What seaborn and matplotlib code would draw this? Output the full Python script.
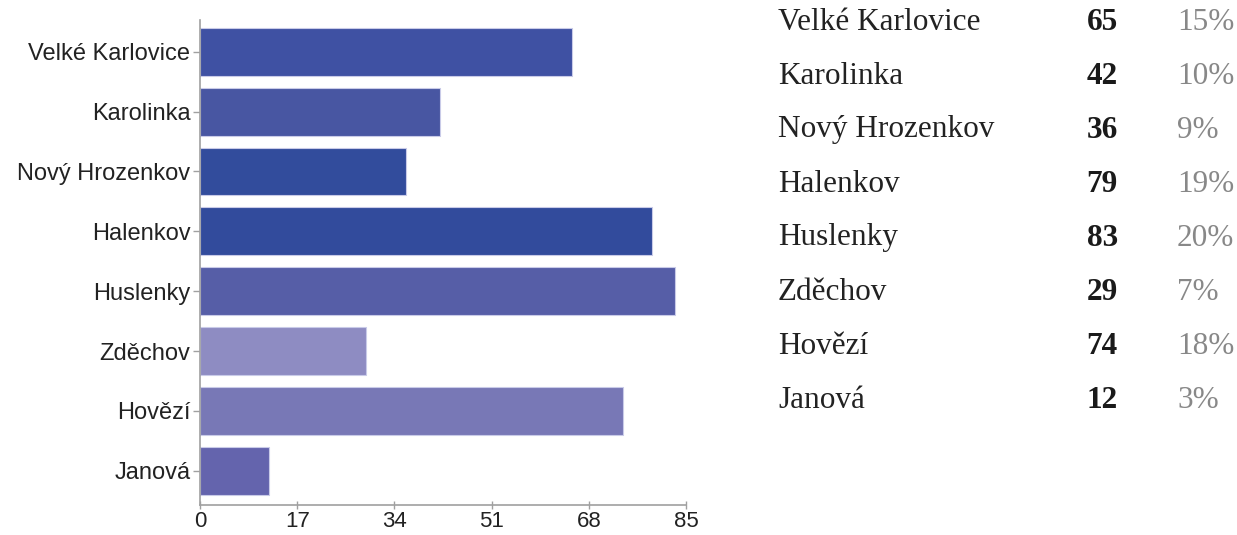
import pandas as pd
import seaborn as sns
import matplotlib.pyplot as plt

# Data
obce = ["Velké Karlovice", "Karolinka", "Nový Hrozenkov", "Halenkov",
        "Huslenky", "Zděchov", "Hovězí", "Janová"]
pocty = [65, 42, 36, 79, 83, 29, 74, 12]
procenta = ["15%", "10%", "9%", "19%", "20%", "7%", "18%", "3%"]
barvy = ["#3f51a3", "#4856a2", "#324c9c", "#324b9c",
         "#565ea7", "#8e8cc2", "#7878b6", "#6464ad"]
x_ticks = [0, 17, 34, 51, 68, 85]

df = pd.DataFrame({"obec": obce, "pocet": pocty})

sns.set_style("white")
plt.rcParams["font.family"] = ["Liberation Sans", "DejaVu Sans"]

fig = plt.figure(figsize=(12.37, 5.35), dpi=100)
ax = fig.add_axes([200 / 1237, 30 / 535, 486 / 1237, 485 / 535])

sns.barplot(data=df, x="pocet", y="obec", hue="obec", palette=dict(zip(obce, barvy)),
            orient="h", width=0.8, saturation=1, legend=False, ax=ax,
            edgecolor="#c9cbe8", linewidth=0.8)

ax.set_xlim(0, 85)
ax.set_ylim(7.57, -0.53)
ax.set_xticks(x_ticks)
ax.set_xlabel("")
ax.set_ylabel("")

sns.despine(ax=ax, top=True, right=True)
for side in ["left", "bottom"]:
    ax.spines[side].set_color("#a0a0a0")
    ax.spines[side].set_linewidth(1.2)

ax.tick_params(axis="y", direction="out", length=5, width=1, color="#a0a0a0",
               labelsize=17, labelcolor="#222222", pad=2, left=True)
ax.tick_params(axis="x", direction="inout", length=6, width=1, color="#a0a0a0",
               labelsize=16, labelcolor="#222222", pad=1, bottom=True)

# Table on the right
row_y0 = 22
row_step = 54
for i, (name, val, pct) in enumerate(zip(obce, pocty, procenta)):
    y = 1 - (row_y0 + i * row_step) / 535
    fig.text(778 / 1237, y, name, ha="left", va="center", fontsize=22.5,
             family="Liberation Serif", color="#222222")
    fig.text(1118 / 1237, y, str(val), ha="right", va="center", fontsize=22.5,
             family="Liberation Serif", weight="bold", color="#1a1a1a")
    fig.text(1177 / 1237, y, pct, ha="left", va="center", fontsize=22.5,
             family="Liberation Serif", color="#888888")

fig.savefig("out.png", dpi=100)
